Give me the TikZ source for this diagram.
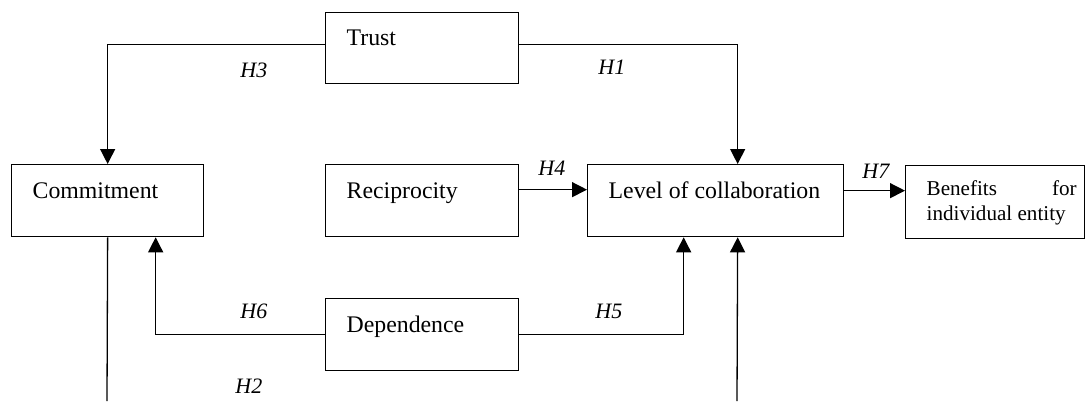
\documentclass[tikz,border=0pt]{standalone}
\usepackage{fontspec}
\setmainfont{Liberation Serif}
\usetikzlibrary{arrows.meta}
\begin{document}
\begin{tikzpicture}[x=0.5pt,y=-0.5pt,
  box/.style={draw, line width=0.65pt, anchor=north west, inner xsep=10.5pt, inner ysep=0pt,
    text height=17pt, text depth=19pt, font=\fontsize{11.9}{14}\selectfont},
  conn/.style={line width=0.65pt},
  arr/.style={conn, -{Triangle[length=7.5pt,width=7.5pt]}},
  hlabel/.style={anchor=base west, inner sep=0pt, font=\fontsize{11}{13}\selectfont\itshape}]
\useasboundingbox (0,0) rectangle (1085,401);
% boxes
\node[box, text height=16.5pt, text depth=19pt] (trust) at (325,12) {\makebox[75.5pt][l]{Trust}};
\node[box] (commit) at (11,164) {\makebox[75pt][l]{Commitment}};
\node[box] (recip) at (325,164) {\makebox[75.5pt][l]{Reciprocity}};
\node[box] (loc) at (587,164) {\makebox[107pt][l]{Level of collaboration}};
\node[box] (dep) at (325,298) {\makebox[75.5pt][l]{Dependence}};
\node[box, inner xsep=0pt, text height=15pt, text depth=21.5pt, font=\fontsize{10.56}{12.5}\selectfont] (benef) at (905,165)
  {\hspace{10.5pt}\parbox[t]{79pt}{\makebox[75pt][l]{Benefits\hfill for}\\individual entity}};
% free ends
\coordinate (c2end) at (107,401);
\coordinate (locin) at (737,401);
% connectors
\draw[arr] ([yshift=1.75pt]trust.west) -| (commit.north);
\draw[arr] ([yshift=1.75pt]trust.east) -| ([xshift=11pt]loc.north);
\draw[arr] ([yshift=5.5pt]recip.east) -- ([yshift=5.5pt]recip.east -| loc.west);
\draw[arr] ([yshift=5pt]loc.east) -- ([yshift=5pt]loc.east -| benef.west);
\draw[arr] (dep.west) -| ([xshift=24pt]commit.south);
\draw[arr] (dep.east) -| ([xshift=-16pt]loc.south);
\draw[conn] (commit.south) -- (c2end);
\draw[arr] (locin) -- ([xshift=11pt]loc.south);
% labels
\node[hlabel] (h3) at (240,78) {H3};
\node[hlabel] (h1) at (598,75) {H1};
\node[hlabel] (h4) at (538,175) {H4};
\node[hlabel] (h7) at (862,178) {H7};
\node[hlabel] (h6) at (240,318) {H6};
\node[hlabel] (h5) at (595,318) {H5};
\node[hlabel] (h2) at (235,393) {H2};
\end{tikzpicture}
\end{document}
